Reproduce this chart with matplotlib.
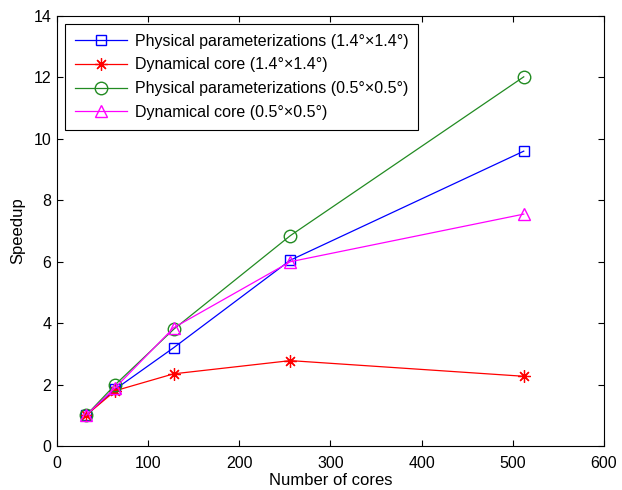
import matplotlib
matplotlib.use('Agg')
import matplotlib.pyplot as plt

plt.rcParams['font.family'] = ['Liberation Sans', 'DejaVu Sans']

cores = [32, 64, 128, 256, 512]
phys_14 = [1.0, 1.85, 3.2, 6.05, 9.6]
dyn_14 = [1.0, 1.8, 2.35, 2.78, 2.27]
phys_05 = [1.0, 2.0, 3.8, 6.85, 12.02]
dyn_05 = [1.0, 1.9, 3.85, 6.0, 7.55]

labels = ['Physical parameterizations (1.4\u00b0\u00d71.4\u00b0)',
          'Dynamical core (1.4\u00b0\u00d71.4\u00b0)',
          'Physical parameterizations (0.5\u00b0\u00d70.5\u00b0)',
          'Dynamical core (0.5\u00b0\u00d70.5\u00b0)']

fig = plt.figure(figsize=(6.22, 4.9), dpi=100)
ax = fig.add_axes([0.0916, 0.0898, 0.8794, 0.8775])

ax.plot(cores, phys_14, color='blue', marker='s', ms=7, mfc='none', lw=0.9, label=labels[0])
ax.plot(cores, dyn_14, color='red', marker=(8, 2, 0), ms=9, mew=0.9, lw=0.9, label=labels[1])
ax.plot(cores, phys_05, color='#228B22', marker='o', ms=9, mfc='none', lw=0.9, label=labels[2])
ax.plot(cores, dyn_05, color='magenta', marker='^', ms=9, mfc='none', lw=0.9, label=labels[3])

ax.set_xlim(0, 600)
ax.set_ylim(0, 14)
ax.set_xticks(range(0, 601, 100))
ax.set_yticks(range(0, 15, 2))
ax.tick_params(direction='in', top=True, right=True, labelsize=11.5, length=4)
ax.tick_params(axis='x', pad=7)
ax.tick_params(axis='y', pad=4)
ax.set_xlabel('Number of cores', fontsize=12, labelpad=2)
ax.set_ylabel('Speedup', fontsize=12, labelpad=6)

leg = ax.legend(loc='upper left', fontsize=11.5, fancybox=False, framealpha=1,
                edgecolor='black', borderaxespad=0.5, labelspacing=0.55,
                handlelength=3.3, borderpad=0.6, handletextpad=0.5)
leg.get_frame().set_linewidth(0.8)

fig.savefig('out.png', dpi=100)
